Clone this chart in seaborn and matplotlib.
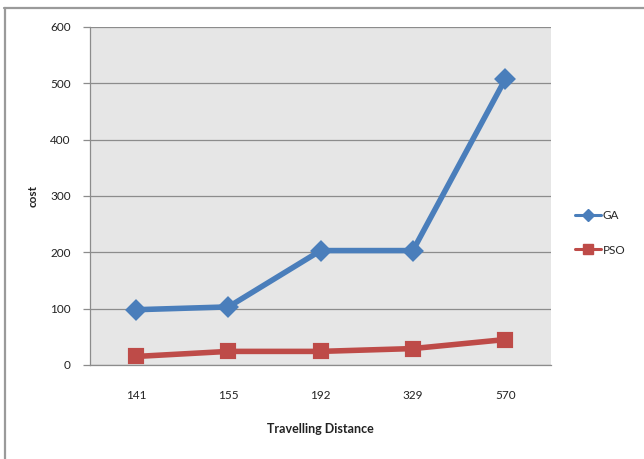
import matplotlib
matplotlib.use("Agg")
import matplotlib.pyplot as plt
from matplotlib.lines import Line2D
import seaborn as sns
import pandas as pd

# Travelling distance categories and cost of each optimiser
distances = ["141", "155", "192", "329", "570"]
ga_cost = [98, 103, 203, 203, 507]
pso_cost = [15, 24, 24, 29, 45]
series_names = ["GA", "PSO"]
yticks = [0, 100, 200, 300, 400, 500, 600]

df = pd.DataFrame({
    "distance": distances * 2,
    "cost": ga_cost + pso_cost,
    "method": [series_names[0]] * len(distances) + [series_names[1]] * len(distances),
})

sns.set_theme(style="white")
plt.rcParams["font.family"] = ["Lato", "DejaVu Sans"]

colors = {"GA": "#4A7EBB", "PSO": "#BE4B48"}

fig = plt.figure(figsize=(6.44, 4.59), dpi=100)
ax = fig.add_axes([0.1398, 0.205, 0.7162, 0.7362])
ax.set_facecolor("#E6E6E6")

sns.pointplot(
    data=df, x="distance", y="cost", hue="method", order=distances,
    hue_order=series_names, palette=colors, markers=["D", "s"],
    linestyles=["-", "-"], markersize=8.5, linewidth=4.0, dodge=False,
    errorbar=None, ax=ax, legend=False,
)

ax.set_xlim(-0.5, len(distances) - 0.5)
ax.set_ylim(0, 600)
ax.set_yticks(yticks)
ax.yaxis.grid(True, color="#8C8C8C", linewidth=0.9)
ax.set_axisbelow(True)

for side in ["top", "right"]:
    ax.spines[side].set_visible(False)
for side in ["left", "bottom"]:
    ax.spines[side].set_color("#8C8C8C")
    ax.spines[side].set_linewidth(0.9)

ax.tick_params(axis="y", which="major", left=True, length=5, width=0.9,
               color="#8C8C8C", labelsize=8.5, labelcolor="#222222", pad=9)
ax.tick_params(axis="x", which="major", bottom=False, labelsize=8.5,
               labelcolor="#222222", pad=12)

ax.set_xlabel("Travelling Distance", fontsize=9, fontweight="bold",
              color="#222222", labelpad=16)
ax.set_ylabel("cost", fontsize=8.5, fontweight="bold", color="#222222",
              labelpad=8)

handles = [
    Line2D([0], [0], color=colors["GA"], marker="D", markersize=6,
           linewidth=2.2, label="GA"),
    Line2D([0], [0], color=colors["PSO"], marker="s", markersize=7,
           linewidth=2.2, label="PSO"),
]
fig.legend(handles=handles, loc="center left", bbox_to_anchor=(0.885, 0.493),
           frameon=False, fontsize=8.5, handlelength=2.2, handletextpad=0.2,
           labelspacing=2.0, borderaxespad=0)

# Thin outer frame on the top and left edges
fig.add_artist(Line2D([0.006, 1.0], [0.983, 0.983], transform=fig.transFigure,
                      color="#9A9A9A", linewidth=1.6))
fig.add_artist(Line2D([0.007, 0.007], [0.0, 0.983], transform=fig.transFigure,
                      color="#9A9A9A", linewidth=1.6))

fig.savefig("out.png", dpi=100, facecolor="white")
